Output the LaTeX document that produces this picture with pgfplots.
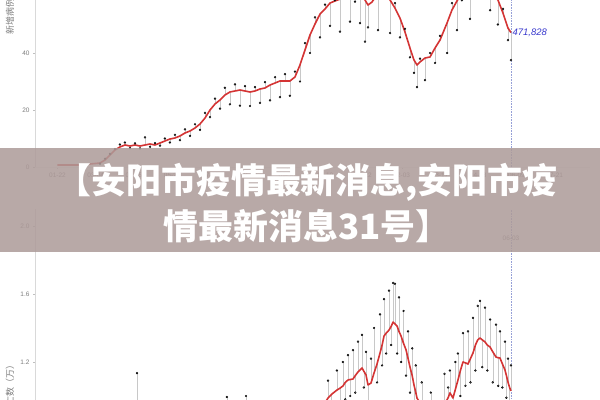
\documentclass[border=0pt]{standalone}
\usepackage{pgfplots}
\pgfplotsset{compat=1.18}
\usepackage{pgfplotstable}
\usepackage{fontspec}
\setmainfont{Liberation Sans}
\newfontfamily\cjk{Noto Sans CJK SC}
\definecolor{redline}{RGB}{212,52,52}
\definecolor{banner}{RGB}{173,155,153}
\definecolor{ticktext}{RGB}{125,125,125}
\definecolor{hover}{RGB}{150,160,215}
\definecolor{labelblue}{RGB}{55,55,205}
\definecolor{dotgray}{RGB}{105,105,105}
\definecolor{stemgray}{RGB}{200,200,200}

% days since 2020-01-22; 7-day average (line) and daily value (dots), in 10k
\pgfplotstableread{
x line daily
0 0.7 nan
13.7 0.7 nan
24.7 0.7 nan
35.7 1.05 nan
46.7 1.4 1.2
52.2 2.46 2.9
57.7 4.21 4.6
63.1 5.96 6.3
68.6 7.02 7.9
74.1 7.72 8.6
79.6 7.37 6.6
85.1 7.72 8.3
90.6 7.37 6.5
96.1 7.72 10.4
101.6 8.07 7.1
107.1 7.72 8.4
112.6 8.42 7.5
118.0 9.12 10.0
123.5 9.82 8.6
129.0 10.18 11.3
134.5 10.88 9.4
140.0 11.93 13.2
145.5 12.63 10.9
151.0 13.68 15.0
156.5 15.09 13.0
162.0 17.19 19.0
167.5 20.00 17.5
173.0 22.11 24.0
178.5 23.51 20.5
183.9 25.26 27.8
189.4 26.32 22.0
194.9 26.67 29.0
200.4 27.02 21.5
205.9 26.67 28.4
211.4 26.32 21.4
216.9 26.67 28.0
222.4 27.37 22.5
227.9 27.72 29.8
233.4 28.77 23.4
238.9 29.47 31.5
244.3 30.18 24.5
249.8 30.18 32.6
255.3 30.18 25.0
260.8 31.58 33.5
266.3 35.79 30.0
271.8 41.05 43.5
277.3 46.32 40.0
282.8 50.18 52.5
288.3 53.68 45.5
293.8 55.44 57.0
299.3 57.54 49.5
304.7 58.25 58.5
310.2 58.9 47.5
315.7 59.5 60.5
321.2 60.5 51.0
326.7 61.5 58.0
332.2 61 50.5
337.7 58.6 44.0
341.0 56.84 49.0
345.4 57.89 60.5
352.0 61 48.0
359.7 61 60.5
365.2 58.6 47.0
370.6 55.79 57.5
376.1 52.28 45.5
381.6 47.37 48.5
387.1 41.75 38.5
391.5 37.54 33.0
394.8 35.79 28.0
398.1 36.84 38.0
403.6 38.25 30.5
409.1 38.6 40.0
414.6 41.75 36.5
420.1 44.56 46.0
427.8 50.53 40.0
433.2 55.09 57.5
438.7 58.25 48.0
444.2 61 58.5
453.0 63 52.0
464.0 64 60.5
475.0 62 55.0
483.7 58.6 50.0
489.2 54.04 55.5
494.7 48.77 44.5
498 47.18 37.5
}\topdata

\pgfplotstableread{
x line daily
0 0.0 nan
50 0.1 nan
70 0.5 nan
87.3 0.70 1.135
100 0.62 nan
130 0.45 nan
160 0.52 nan
186.1 0.6 0.994
207.0 0.6 1.00
220 0.58 nan
250 0.58 nan
270 0.7 nan
290 0.93 nan
297.1 0.988 1.09
301 1.01 0.93
306.9 1.035 1.15
310 1.045 0.95
313.5 1.059 1.20
316 1.08 0.98
319.0 1.094 1.24
321.5 1.097 1.00
324.5 1.100 1.27
327 1.12 1.02
330.0 1.141 1.32
334.4 1.165 1.36
336.5 1.145 1.05
338.8 1.124 1.26
341.0 1.065 0.93
344.3 1.076 1.22
347.6 1.135 1.40
351 1.19 1.08
354.2 1.253 1.48
356.5 1.30 1.18
358.6 1.353 1.57
361 1.37 1.25
364.1 1.388 1.62
366.5 1.41 1.30
368.5 1.435 1.665
370.5 1.425 1.66
372.9 1.412 1.25
375 1.38 1.58
377.3 1.353 1.20
380 1.31 1.50
382.8 1.271 1.12
385 1.22 1.38
387.1 1.171 1.02
389.5 1.12 1.28
391.5 1.065 0.93
393.5 1.02 1.18
394.8 0.988 nan
400 0.94 1.08
405 0.91 nan
410 0.89 1.02
415 0.88 nan
420 0.90 nan
425 0.95 1.13
429 0.99 1.05
431.0 1.018 1.15
434.3 0.988 0.90
437 1.04 1.20
439.8 1.094 1.25
442.5 1.15 1.00
445.3 1.200 1.37
448 1.195 1.06
450.8 1.188 1.38
453.5 1.22 1.08
456.3 1.253 1.46
459 1.30 1.15
461.5 1.33 1.53
464.0 1.341 1.56
466.5 1.33 1.17
469.5 1.318 1.52
472 1.30 1.15
475.0 1.288 1.45
478 1.26 1.08
481.6 1.229 1.42
484 1.225 1.06
485.9 1.224 1.38
488.5 1.19 1.05
491.4 1.153 1.32
493 1.12 0.99
494.7 1.082 1.22
496.5 1.05 0.95
498 1.03 1.18
}\bottomdata

\pgfplotsset{
  chartstyle/.style={
    scale only axis,
    width=555bp,
    xmin=-24.7, xmax=584.8,
    axis lines*=left,
    axis line style={draw=gray!30},
    x axis line style={draw=gray!12},
    tick align=outside,
    major tick length=2bp,
    tick style={draw=gray!50},
    ticklabel style={font=\fontsize{6.5}{7}\selectfont, text=ticktext},
    /pgf/number format/assume math mode=true,
    clip=true,
  },
  stem/.style={stemgray, line width=0.45bp},
  dots/.style={only marks, mark=*, mark size=0.95bp, mark options={draw=none, fill=dotgray}},
  avg/.style={redline, line width=1.6bp, no marks, line join=round},
}

\begin{document}
\begin{tikzpicture}
\useasboundingbox (0,0) rectangle (600bp,400bp);
\fill[white] (0,0) rectangle (600bp,400bp);
\begin{scope}
\clip (0,0) rectangle (600bp,400bp);

% top chart: new cases
\begin{axis}[chartstyle,
  at={(35bp,233bp)}, anchor=south west,
  height=182.4bp,
  ymin=0, ymax=64,
  ytick={0,20,40,60},
  xtick={0,42,84,126,168,210,252,294,336,378,420,462,504,546},
  xticklabels={01-22,03-04,04-15,05-27,07-08,08-19,09-30,11-10,12-22,02-03,03-17,04-28,06-09,07-21},
]
\addplot[hover, densely dotted, line width=0.6bp] coordinates {(498,0) (498,64)};
\addplot[stem, quiver={u=0, v=\thisrow{line}-\thisrow{daily}}] table[x=x, y=daily] {\topdata};
\addplot[dots] table[x=x, y=daily] {\topdata};
\addplot[avg] table[x=x, y=line] {\topdata};
\node[anchor=west, inner sep=1.5bp, text=labelblue, font=\itshape\fontsize{9.5}{11}\selectfont] at (axis cs:498,47.18) {471,828};
\end{axis}

% bottom chart: new deaths
\begin{axis}[chartstyle,
  at={(35bp,-13bp)}, anchor=south west,
  height=204bp,
  ymin=0.9, ymax=2.1,
  ytick={1.2,1.6,2.0},
  yticklabel style={/pgf/number format/.cd, fixed, fixed zerofill, precision=1},
  xtick=\empty,
]
\addplot[hover, densely dotted, line width=0.6bp] coordinates {(498,0.9) (498,2.1)};
\addplot[stem, quiver={u=0, v=\thisrow{line}-\thisrow{daily}}] table[x=x, y=daily] {\bottomdata};
\addplot[dots] table[x=x, y=daily] {\bottomdata};
\addplot[avg] table[x=x, y=line] {\bottomdata};
\node[text=ticktext, font=\fontsize{6.5}{7}\selectfont] at (axis cs:498,1.925) {06-03};
\end{axis}

% axis titles
\node[rotate=90, anchor=west, inner sep=0pt, text=ticktext, font=\cjk\fontsize{9}{10}\selectfont] at (10bp,365bp) {新增病例数（万）};
\node[rotate=90, anchor=east, inner sep=0pt, text=ticktext, font=\cjk\fontsize{9}{10}\selectfont] at (10bp,40bp) {新增死亡数（万）};

% banner
\fill[banner, opacity=0.86] (0,148bp) rectangle (600bp,252bp);
\node[text=white, align=center, inner sep=0pt, font=\cjk\bfseries\fontsize{35}{47}\selectfont] at (307bp,197bp) {【安阳市疫情最新消息,安阳市疫\\情最新消息31号】};
\end{scope}
\end{tikzpicture}
\end{document}
